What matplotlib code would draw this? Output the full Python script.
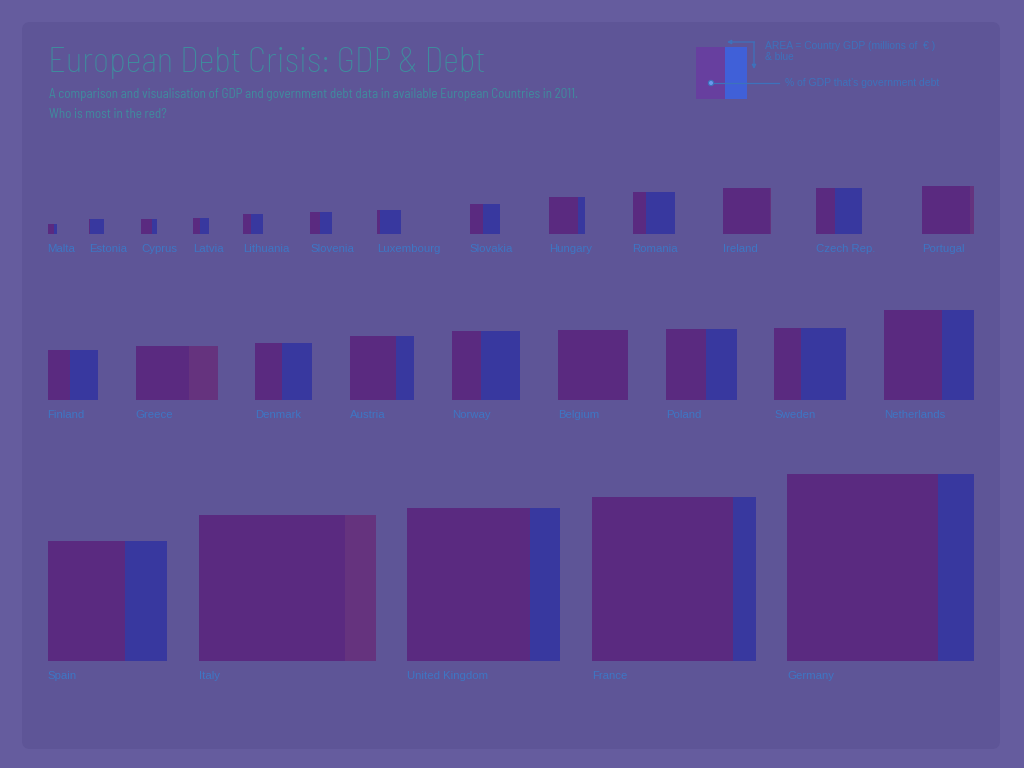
"""
European Debt Crisis: GDP & Debt, 2011.
Square area = GDP, red width = debt as % of GDP.
"""

import matplotlib
matplotlib.use('Agg')
import matplotlib.pyplot as plt
from matplotlib.patches import Rectangle, FancyBboxPatch, Circle
import numpy as np

countries = [
    'Malta', 'Estonia', 'Cyprus', 'Latvia', 'Lithuania', 'Slovenia',
    'Luxembourg', 'Slovakia', 'Hungary', 'Romania', 'Ireland', 'Czech Rep.',
    'Portugal',
    'Finland', 'Greece', 'Denmark', 'Austria', 'Norway', 'Belgium', 'Poland',
    'Sweden', 'Netherlands',
    'Spain', 'Italy', 'United Kingdom', 'France', 'Germany',
]
# GDP in millions of euro
gdp_millions = [
    6800, 16000, 17800, 20000, 30800, 36200,
    42600, 69100, 99800, 131300, 159000, 155500,
    171100,
    189500, 215000, 240500, 308000, 351000, 369800, 370900,
    387600, 605000,
    1073400, 1595000, 1750000, 2001000, 2609000,
]
# government debt, % of GDP
debt_pct = [
    70, 6, 68, 45, 39, 46,
    15, 43, 80, 33, 104, 41,
    108,
    45, 153, 47, 72, 43, 99, 56,
    37, 64,
    65, 121, 80, 86, 81,
]
row_sizes = [13, 9, 5]

title = 'European Debt Crisis: GDP & Debt'
subtitle = ('A comparison and visualisation of GDP and government debt data '
            'in available European Countries in 2011.')
subtitle2 = 'Who is most in the red?'

BG_OUT = '#655c9e'
BG_IN = '#5e5597'
BLUE = '#38389f'
RED = '#692574'
TITLE_C = '#3f8c9e'
LABEL_C = '#3e76c4'
LEG_C = '#3d72bc'
NARROW = ['Barlow Semi Condensed', 'DejaVu Sans']
PLAIN = ['Liberation Sans', 'DejaVu Sans']

fig = plt.figure(figsize=(10.24, 7.68), dpi=100)
fig.patch.set_facecolor(BG_OUT)
ax = fig.add_axes([0, 0, 1, 1])
ax.set_xlim(0, 1024)
ax.set_ylim(768, 0)
ax.axis('off')

ax.add_patch(FancyBboxPatch((22, 22), 978, 727,
                            boxstyle='round,pad=0,rounding_size=8',
                            fc=BG_IN, ec='none'))

renderer = fig.canvas.get_renderer()


def fit_text(x, y, s, width, size, **kw):
    # scale the font so the text spans the given pixel width
    t = ax.text(x, y, s, fontsize=size, **kw)
    w = t.get_window_extent(renderer).width
    t.set_fontsize(size * width / w)
    return t


# title block
fit_text(48, 72, title, 439, 24, family=NARROW, weight='light',
         color=TITLE_C, va='baseline', ha='left')
sub = fit_text(49, 98, subtitle, 532, 9, family=NARROW, color=TITLE_C,
               va='baseline', ha='left')
ax.text(49, 118, subtitle2, fontsize=sub.get_fontsize(), family=NARROW,
        color=TITLE_C, va='baseline', ha='left')

# legend
ax.add_patch(Rectangle((696, 47), 29, 52, fc='#673f9f', ec='none'))
ax.add_patch(Rectangle((725, 47), 22, 52, fc='#4060d8', ec='none'))
ax.annotate('', xy=(727, 42), xytext=(754.5, 42),
            arrowprops=dict(arrowstyle='-|>', color=LEG_C, lw=0.9,
                            mutation_scale=6, shrinkA=0, shrinkB=0))
ax.annotate('', xy=(754, 69), xytext=(754, 42),
            arrowprops=dict(arrowstyle='-|>', color=LEG_C, lw=0.9,
                            mutation_scale=6, shrinkA=0, shrinkB=0))
ax.plot([714, 779], [83, 83], color=LEG_C, lw=0.9)
ax.add_patch(Circle((711, 83), 2.6, fc='#6a98ee', ec=LEG_C, lw=0.8))
leg_kw = dict(family=PLAIN, color=LEG_C, va='center', ha='left')
fit_text(765, 46, 'AREA = Country GDP (millions of  \u20ac )', 170, 7, **leg_kw)
ax.text(765, 57, '& blue', fontsize=7.3, **leg_kw)
fit_text(785, 83, '% of GDP that\u2019s government debt', 154, 7, **leg_kw)

# country squares, one row at a time, spread across the row
scale = 187 / np.sqrt(2609000)
sides = scale * np.sqrt(np.array(gdp_millions, dtype=float))
row_bottoms = [234, 400, 661]
gap_growth = [1.0, 0.0, 0.0]   # top row: gap grows with the next square
left, right = 47.5, 974

start = 0
for r, n in enumerate(row_sizes):
    idx = list(range(start, start + n))
    labels = [ax.text(0, row_bottoms[r] + 15, countries[i], fontsize=8.2,
                      family=PLAIN, color=LABEL_C,
                      va='center', ha='left') for i in idx]
    lw = [t.get_window_extent(renderer).width for t in labels]
    widths = [max(sides[i] * max(1, debt_pct[i] / 100), lw[j])
              for j, i in enumerate(idx)]
    extra = [gap_growth[r] * sides[i] for i in idx[1:]]
    base = (right - left - sum(widths) - sum(extra)) / (n - 1)
    x = left
    for j, i in enumerate(idx):
        s = sides[i]
        y0 = row_bottoms[r] - s
        ax.add_patch(Rectangle((x, y0), s, s, fc=BLUE, ec='none'))
        ax.add_patch(Rectangle((x, y0), s * debt_pct[i] / 100, s,
                               fc=RED, alpha=0.7, ec='none'))
        labels[j].set_x(x)
        if j < n - 1:
            x += widths[j] + base + extra[j]
    start += n

plt.savefig('out.png', dpi=100, facecolor=fig.get_facecolor())
print("Saved out.png")
